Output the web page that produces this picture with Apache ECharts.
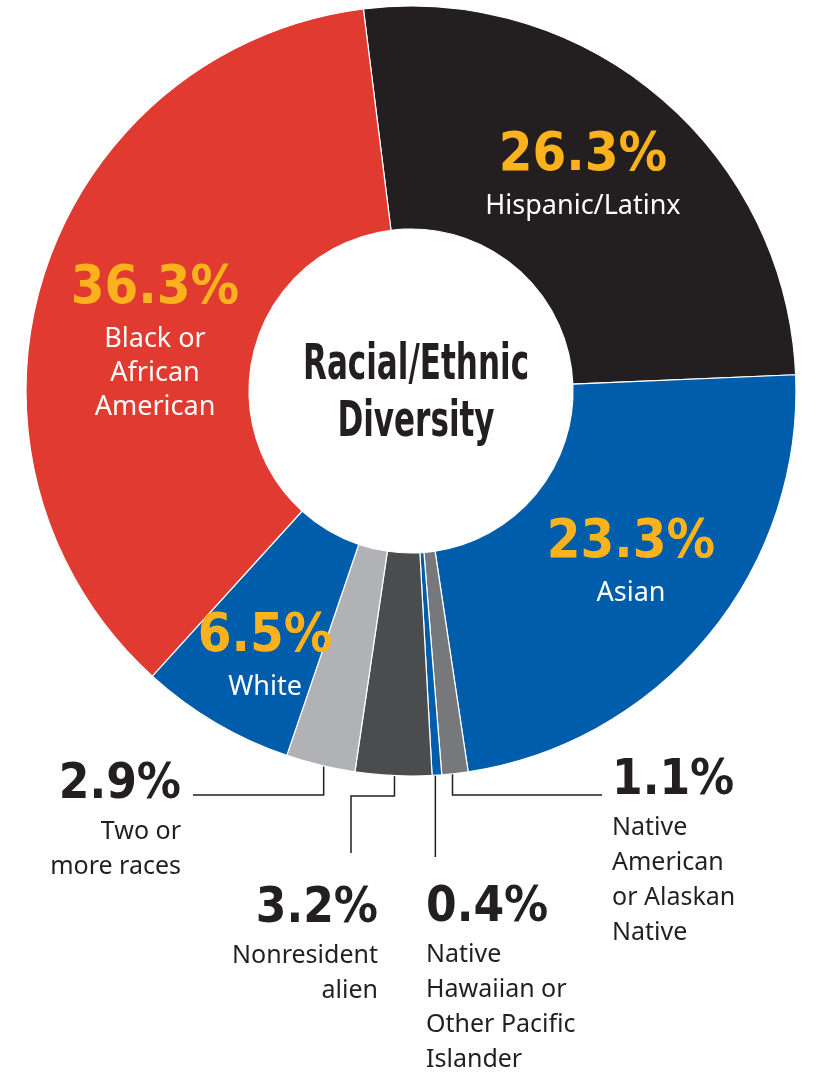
<!DOCTYPE html>
<html>
<head>
<meta charset="utf-8">
<script src="https://cdn.jsdelivr.net/npm/echarts@6/dist/echarts.min.js"></script>
<style>
  html, body { margin: 0; padding: 0; background: #ffffff; }
  #chart { width: 817px; height: 1073px; }
</style>
</head>
<body>
<div id="chart"></div>
<script>
// data (clockwise from the top)
var categories = ['Hispanic/Latinx', 'Asian', 'Native American or Alaskan Native',
  'Native Hawaiian or Other Pacific Islander', 'Nonresident alien', 'Two or more races',
  'White', 'Black or African American'];
var values = [26.3, 23.3, 1.1, 0.4, 3.2, 2.9, 6.5, 36.3];
var pctLabels = ['26.3%', '23.3%', '1.1%', '0.4%', '3.2%', '2.9%', '6.5%', '36.3%'];
var nameLines = [
  ['Hispanic/Latinx'],
  ['Asian'],
  ['Native', 'American', 'or Alaskan', 'Native'],
  ['Native', 'Hawaiian or', 'Other Pacific', 'Islander'],
  ['Nonresident', 'alien'],
  ['Two or', 'more races'],
  ['White'],
  ['Black or', 'African', 'American']
];
var colors = ['#231f20', '#005dab', '#77787b', '#005dab', '#4b4c4e', '#b1b2b5', '#005dab', '#e13a31'];
var centerTitle = 'Racial/Ethnic\nDiversity';

// layout
var CX = 411, CY = 391;
var LEADER_Y = 752;
var PCT_FONT = "'DejaVu Sans Condensed', 'DejaVu Sans', sans-serif";
var NAME_FONT = "'Noto Sans', 'Lato', sans-serif";

// where each label block goes (top of block), and the leader path for the small slices
var labelPlace = [
  { x: 583, y: 123, align: 'center', inside: true },
  { x: 631, y: 510, align: 'center', inside: true },
  { x: 612, y: 752, align: 'left', leader: [['v', 795], ['h', 602]] },
  { x: 426, y: 879, align: 'left', leader: [['v', 857]] },
  { x: 378, y: 880, align: 'right', leader: [['v', 796], ['h', 351], ['v', 853]] },
  { x: 181, y: 756, align: 'right', leader: [['v', 795], ['h', 193]] },
  { x: 265, y: 604, align: 'center', inside: true },
  { x: 155, y: 256, align: 'center', inside: true }
];

var chart = echarts.init(document.getElementById('chart'));

var seriesData = categories.map(function (name, i) {
  var item = {
    name: name,
    value: values[i],
    itemStyle: { color: colors[i] }
  };
  if (!labelPlace[i].inside) {
    item.label = { position: 'outside' };
    item.labelLine = { show: true };
  }
  return item;
});

var option = {
  animation: false,
  backgroundColor: '#ffffff',
  // centre text, squeezed to look like the condensed face of the original
  graphic: [
    {
      type: 'text',
      x: 416,
      y: 338,
      scaleX: 0.69,
      z: 10,
      style: {
        text: centerTitle,
        fontFamily: PCT_FONT,
        fontWeight: 'bold',
        fontSize: 50,
        lineHeight: 57,
        fill: '#231f20',
        align: 'center',
        verticalAlign: 'top'
      }
    }
  ],
  series: [
    {
      type: 'pie',
      center: [CX, CY],
      radius: [162, 385],
      startAngle: 97.1,
      clockwise: true,
      avoidLabelOverlap: false,
      itemStyle: { borderColor: '#ffffff', borderWidth: 1.2 },
      emphasis: { disabled: true },
      label: {
        show: true,
        position: 'inside',
        rotate: 0,
        formatter: function (p) {
          var inside = labelPlace[p.dataIndex].inside;
          var pk = inside ? 'p' : 'q';
          var nk = inside ? 'n' : 'm';
          var s = '{' + pk + '|' + pctLabels[p.dataIndex] + '}';
          nameLines[p.dataIndex].forEach(function (line) {
            s += '\n{' + nk + '|' + line + '}';
          });
          return s;
        },
        rich: {
          p: { fontFamily: PCT_FONT, fontWeight: 'bold', fontSize: 54, lineHeight: 66, color: '#fbb21c' },
          n: { fontFamily: NAME_FONT, fontSize: 27, lineHeight: 34, color: '#ffffff' },
          q: { fontFamily: PCT_FONT, fontWeight: 'bold', fontSize: 49, lineHeight: 58, color: '#231f20' },
          m: { fontFamily: NAME_FONT, fontSize: 25, lineHeight: 35, color: '#231f20' }
        }
      },
      labelLine: {
        show: false,
        smooth: false,
        lineStyle: { color: '#231f20', width: 1.5 }
      },
      labelLayout: function (params) {
        var place = labelPlace[params.dataIndex];
        var out = { x: place.x, y: place.y, align: place.align, verticalAlign: 'top' };
        if (place.leader && params.labelLinePoints) {
          // start the leader inside the slice, on its middle direction
          var a = params.labelLinePoints[0];
          var dx = a[0] - CX, dy = a[1] - CY;
          var sx = CX + dx * (LEADER_Y - CY) / dy;
          var pts = [[sx, LEADER_Y]];
          var cur = [sx, LEADER_Y];
          place.leader.forEach(function (seg) {
            cur = seg[0] === 'v' ? [cur[0], seg[1]] : [seg[1], cur[1]];
            pts.push(cur);
          });
          out.labelLinePoints = pts;
        }
        return out;
      },
      data: seriesData
    }
  ]
};

chart.setOption(option);
</script>
</body>
</html>
